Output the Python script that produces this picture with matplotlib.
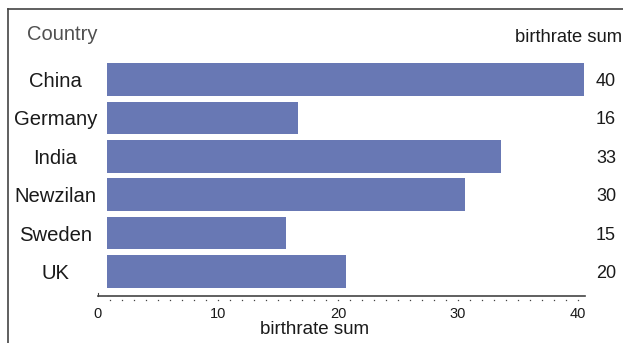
import matplotlib
matplotlib.use("Agg")
import matplotlib.pyplot as plt
import matplotlib.transforms as mtransforms
import numpy as np

plt.rcParams["font.family"] = ["Liberation Sans", "DejaVu Sans"]

countries = ["China", "Germany", "India", "Newzilan", "Sweden", "UK"]
birthrate_sum = [40, 16, 33, 30, 15, 20]
x_ticks = [0, 10, 20, 30, 40]

BAR_COLOR = "#6878b4"
TEXT_COLOR = "#1a1a1a"
FRAME_COLOR = "#444444"
W, H = 623, 343


def px_rect(left, top, right, bottom):
    return [left / W, 1 - bottom / H, (right - left) / W, (bottom - top) / H]


fig = plt.figure(figsize=(W / 100, H / 100), dpi=100)

# bar panel
ax = fig.add_axes(px_rect(107, 60, 584, 296))
pos = np.arange(len(countries))
ax.barh(pos, birthrate_sum, height=0.85, color=BAR_COLOR)
ax.set_xlim(0, 40)
ax.set_ylim(5.64, -0.51)
ax.set_xticks([])
ax.set_yticks(pos)
ax.set_yticklabels(countries, ha="center", fontsize=14.6, color=TEXT_COLOR)
ax.tick_params(axis="y", length=0, pad=37)
for spine in ax.spines.values():
    spine.set_visible(False)
ax.patch.set_alpha(0)

# value column on the right
vtrans = mtransforms.blended_transform_factory(fig.transFigure, ax.transData)
for p, v in zip(pos, birthrate_sum):
    ax.text(606 / W, p, f"{v}", transform=vtrans, ha="center",
            va="center_baseline", fontsize=13, color=TEXT_COLOR)

# scale axis underneath
sx = fig.add_axes(px_rect(98, 60, 585, 296))
sx.set_xlim(0, 40.58)
sx.set_ylim(0, 1)
sx.patch.set_alpha(0)
sx.set_yticks([])
sx.set_xticks(x_ticks)
sx.set_xticklabels([str(t) for t in x_ticks], fontsize=10.5, color=TEXT_COLOR)
sx.tick_params(axis="x", length=0, pad=8)
for side in ("top", "right"):
    sx.spines[side].set_visible(False)
sx.spines["bottom"].set_color(FRAME_COLOR)
sx.spines["bottom"].set_linewidth(1.2)
sx.spines["left"].set_color(FRAME_COLOR)
sx.spines["left"].set_bounds(0, 0.014)
sx.set_xlabel("birthrate sum", fontsize=13.5, color=TEXT_COLOR, labelpad=-1)
sx.xaxis.set_label_coords((315 - 98) / 487, -0.105)

# fine dotted marks under the axis line, one per unit
dots = np.arange(1, 41)
dtrans = mtransforms.blended_transform_factory(sx.transData, sx.transAxes)
sx.plot(dots, np.full(len(dots), -0.019), ls="none", marker="s", markersize=0.9,
        markeredgewidth=0, color="#444444", transform=dtrans, clip_on=False)

fig.text(27 / W, 1 - 35 / H, "Country", ha="left", va="center",
         fontsize=14.5, color="#505050")
fig.text(622 / W, 1 - 37 / H, "birthrate sum", ha="right", va="center",
         fontsize=13.2, color=TEXT_COLOR)

# outer frame, open towards the right and bottom edges
fig.add_artist(plt.Line2D([8 / W, 1.0], [1 - 8.5 / H] * 2, color=FRAME_COLOR,
                          lw=1.2, transform=fig.transFigure))
fig.add_artist(plt.Line2D([8 / W] * 2, [0.0, 1 - 8.5 / H], color=FRAME_COLOR,
                          lw=1.2, transform=fig.transFigure))

fig.savefig("out.png", dpi=100)
